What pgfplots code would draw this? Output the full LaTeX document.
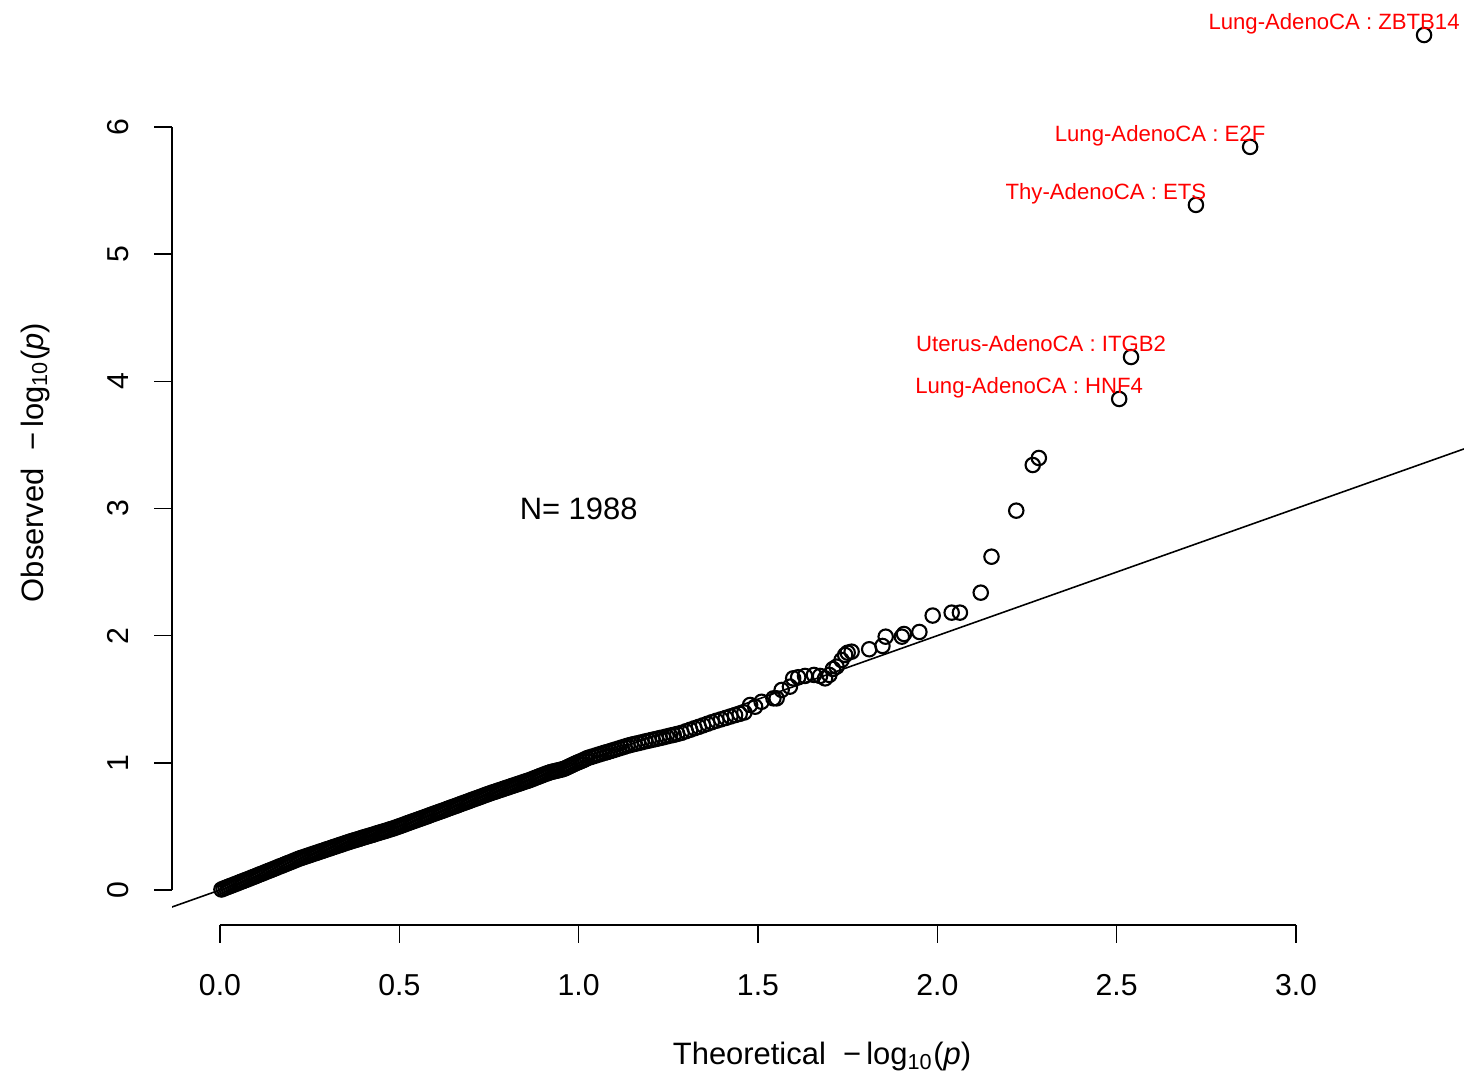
\documentclass[border=0pt]{standalone}
\usepackage{fontspec}
\setmainfont{Liberation Sans}
\usepackage{pgfplots}
\pgfplotsset{compat=1.18}

\begin{document}
\begin{tikzpicture}
\useasboundingbox (0,0) rectangle (14.64,10.75);
\begin{axis}[
    at={(1.72cm,1.50cm)}, anchor=south west,
    x=3.5867cm, y=1.2717cm,
    xmin=-0.1338, xmax=3.491,
    ymin=-0.2752, ymax=6.998,
    axis line style={draw=none},
    clip mode=individual,
    tick align=outside, tick pos=left,
    major tick length=0.18cm,
    tick style={black, line width=0.45pt},
    xtick={0,0.5,1,1.5,2,2.5,3},
    xticklabels={0.0,0.5,1.0,1.5,2.0,2.5,3.0},
    ytick={0,1,2,3,4,5,6},
    yticklabels={0,1,2,3,4,5,6},
    ticklabel style={font=\fontsize{8.6}{10}\selectfont, inner sep=0pt},
    xticklabel style={anchor=base, yshift=-0.53cm},
    yticklabel style={xshift=-0.26cm, rotate=90, anchor=base},
    xlabel={Theoretical\ \ −\,log\textsubscript{10}(\textit{p})},
    ylabel={Observed\ \ −\,log\textsubscript{10}(\textit{p})},
    every axis x label/.style={at={(axis description cs:0.5,0)}, anchor=base,
        yshift=-1.40cm, font=\fontsize{8.8}{10}\selectfont, inner sep=0pt},
    every axis y label/.style={at={(axis description cs:0,0.5)}, xshift=-1.29cm,
        rotate=90, anchor=base, font=\fontsize{8.8}{10}\selectfont, inner sep=0pt},
]

% y = x reference line
\addplot[black, line width=0.45pt] coordinates {(-1,-1) (4,4)};

% observed vs theoretical -log10(p)
\addplot[only marks, mark=o, mark size=2.05pt, mark options={line width=0.6pt, black}]
coordinates {
(0.004,0.004) (0.010,0.011) (0.016,0.018) (0.022,0.024) (0.028,0.031) (0.034,0.037)
(0.040,0.044) (0.046,0.050) (0.052,0.057) (0.058,0.064) (0.064,0.070) (0.070,0.077)
(0.076,0.083) (0.082,0.090) (0.088,0.097) (0.094,0.103) (0.100,0.110) (0.106,0.117)
(0.112,0.124) (0.118,0.130) (0.124,0.137) (0.130,0.144) (0.136,0.151) (0.142,0.157)
(0.148,0.164) (0.154,0.171) (0.160,0.178) (0.166,0.185) (0.172,0.191) (0.178,0.198)
(0.184,0.205) (0.190,0.212) (0.196,0.218) (0.202,0.225) (0.208,0.232) (0.214,0.239)
(0.220,0.246) (0.226,0.252) (0.232,0.257) (0.238,0.263) (0.244,0.269) (0.250,0.274)
(0.256,0.280) (0.262,0.286) (0.268,0.291) (0.274,0.297) (0.280,0.303) (0.286,0.308)
(0.292,0.314) (0.298,0.320) (0.304,0.325) (0.310,0.331) (0.316,0.337) (0.322,0.342)
(0.328,0.348) (0.334,0.354) (0.340,0.359) (0.346,0.365) (0.352,0.371) (0.358,0.376)
(0.364,0.382) (0.370,0.387) (0.376,0.392) (0.382,0.397) (0.388,0.402) (0.394,0.408)
(0.400,0.413) (0.406,0.418) (0.412,0.423) (0.418,0.428) (0.424,0.433) (0.430,0.438)
(0.436,0.444) (0.442,0.449) (0.448,0.454) (0.454,0.459) (0.460,0.464) (0.466,0.469)
(0.472,0.475) (0.478,0.480) (0.484,0.485) (0.490,0.491) (0.496,0.497) (0.502,0.503)
(0.508,0.509) (0.514,0.515) (0.520,0.522) (0.526,0.528) (0.532,0.534) (0.538,0.540)
(0.544,0.546) (0.550,0.552) (0.556,0.558) (0.562,0.564) (0.568,0.570) (0.574,0.576)
(0.580,0.582) (0.586,0.589) (0.592,0.595) (0.598,0.601) (0.604,0.607) (0.610,0.613)
(0.616,0.619) (0.622,0.625) (0.628,0.631) (0.634,0.638) (0.640,0.644) (0.646,0.650)
(0.652,0.656) (0.658,0.662) (0.664,0.668) (0.670,0.675) (0.676,0.681) (0.682,0.687)
(0.688,0.693) (0.694,0.699) (0.700,0.706) (0.706,0.712) (0.712,0.718) (0.718,0.724)
(0.724,0.730) (0.730,0.736) (0.736,0.743) (0.742,0.749) (0.748,0.755) (0.754,0.761)
(0.760,0.767) (0.766,0.772) (0.772,0.778) (0.778,0.784) (0.784,0.789) (0.790,0.795)
(0.796,0.801) (0.802,0.806) (0.808,0.812) (0.814,0.818) (0.820,0.823) (0.826,0.829)
(0.832,0.835) (0.838,0.840) (0.844,0.846) (0.850,0.852) (0.856,0.857) (0.862,0.863)
(0.868,0.869) (0.874,0.876) (0.880,0.883) (0.886,0.889) (0.892,0.896) (0.898,0.902)
(0.904,0.909) (0.910,0.915) (0.916,0.921) (0.922,0.927) (0.928,0.931) (0.934,0.935)
(0.940,0.939) (0.946,0.943) (0.952,0.947) (0.958,0.952) (0.964,0.959) (0.970,0.967)
(0.976,0.975) (0.982,0.983) (0.988,0.991) (0.994,0.999) (1.000,1.006) (1.006,1.013)
(1.012,1.020) (1.018,1.028) (1.024,1.037) (1.032,1.044) (1.040,1.051) (1.048,1.058)
(1.056,1.065) (1.064,1.072) (1.072,1.079) (1.080,1.085) (1.088,1.092) (1.096,1.099)
(1.104,1.106) (1.112,1.113) (1.120,1.120) (1.128,1.127) (1.136,1.134) (1.145,1.141)
(1.155,1.148) (1.165,1.154) (1.175,1.161) (1.185,1.168) (1.195,1.174) (1.205,1.181)
(1.215,1.187) (1.225,1.194) (1.235,1.200) (1.245,1.207) (1.255,1.214) (1.265,1.220)
(1.275,1.227) (1.287,1.236) (1.299,1.248) (1.311,1.260) (1.323,1.272) (1.335,1.283)
(1.347,1.295) (1.359,1.307) (1.371,1.319) (1.384,1.331) (1.397,1.342) (1.410,1.353)
(1.423,1.364) (1.436,1.375) (1.449,1.385) (1.462,1.396)
(1.478,1.455) (1.492,1.441) (1.510,1.480) (1.543,1.507) (1.552,1.507) (1.566,1.573)
(1.589,1.599) (1.598,1.664) (1.612,1.673) (1.631,1.683) (1.656,1.691) (1.673,1.683)
(1.687,1.664) (1.699,1.691) (1.709,1.738) (1.719,1.756) (1.733,1.808) (1.743,1.848)
(1.750,1.866) (1.761,1.874) (1.810,1.893) (1.847,1.919) (1.856,1.992) (1.901,1.992)
(1.907,2.013) (1.950,2.029) (1.987,2.158) (2.040,2.181) (2.063,2.181) (2.121,2.338)
(2.151,2.621) (2.220,2.983) (2.266,3.342) (2.283,3.397)
};

% labelled top hits
\addplot[only marks, mark=o, mark size=2.05pt, mark options={line width=0.6pt, black},
    point meta=explicit symbolic, nodes near coords,
    nodes near coords style={text=red, font=\fontsize{6.3}{7}\selectfont,
        anchor=base, inner sep=0pt, xshift=-0.90cm, yshift=0.055cm}]
coordinates {
(2.507,3.861) [Lung-AdenoCA : HNF4]
(2.540,4.191) [Uterus-AdenoCA : ITGB2]
(2.721,5.387) [Thy-AdenoCA : ETS]
(2.872,5.843) [Lung-AdenoCA : E2F]
(3.357,6.723) [Lung-AdenoCA : ZBTB14]
};

\node[anchor=center, inner sep=0pt, font=\fontsize{8.8}{10}\selectfont]
    at (axis cs:1,3) {N= 1988};

% R-style detached axis lines spanning first to last tick
\draw[line width=0.45pt] (axis cs:0,-0.2752) -- (axis cs:3,-0.2752);
\draw[line width=0.45pt] (axis cs:-0.1338,0) -- (axis cs:-0.1338,6);
\end{axis}
\end{tikzpicture}
\end{document}
